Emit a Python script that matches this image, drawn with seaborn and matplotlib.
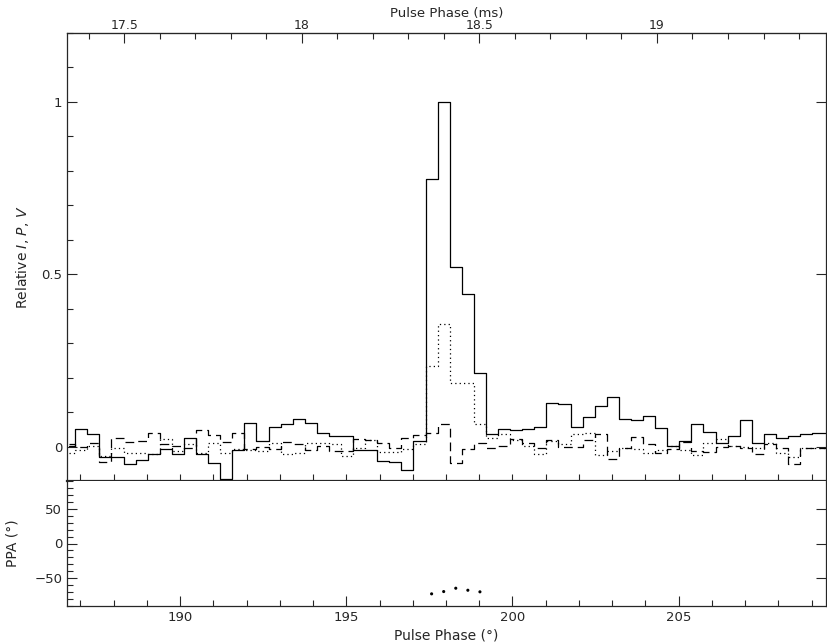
import numpy as np
import pandas as pd
import matplotlib
matplotlib.use("Agg")
import matplotlib.pyplot as plt
import seaborn as sns
from matplotlib.ticker import MultipleLocator

# perfil normalizado, un valor por bin de fase (primer bin parcial a la izquierda)
I = [0.003, 0.051, 0.035, -0.030, -0.030, -0.052, -0.038, -0.023, -0.007, -0.021,
     0.025, -0.021, -0.049, -0.093, -0.009, 0.067, 0.016, 0.056, 0.064, 0.080,
     0.069, 0.040, 0.030, 0.030, -0.009, -0.009, -0.042, -0.045, -0.067, 0.016,
     0.775, 1.0, 0.522, 0.444, 0.214, 0.035, 0.051, 0.047, 0.052, 0.057,
     0.125, 0.122, 0.057, 0.085, 0.117, 0.144, 0.080, 0.077, 0.089, 0.054,
     0.002, 0.017, 0.066, 0.043, 0.011, 0.030, 0.077, 0.010, 0.037, 0.025,
     0.030, 0.035, 0.039, 0.039]
P = [-0.020, -0.011, 0.001, -0.028, -0.004, -0.020, -0.020, -0.022, 0.022, -0.012,
     0.006, -0.018, 0.011, -0.018, -0.007, -0.009, -0.012, 0.011, -0.023, -0.020,
     0.011, 0.011, 0.006, -0.028, -0.004, 0.020, -0.016, -0.016, -0.007, 0.006,
     0.233, 0.355, 0.185, 0.185, 0.066, 0.025, 0.035, 0.018, 0.001, -0.021,
     0.017, 0.006, 0.036, 0.040, -0.025, -0.012, -0.004, -0.006, -0.020, -0.010,
     0.001, -0.011, -0.026, 0.010, 0.021, 0.002, 0.000, -0.004, 0.011, -0.018,
     -0.030, -0.004, -0.004, -0.004]
V = [0.006, 0.000, 0.010, -0.046, 0.024, 0.012, 0.015, 0.038, 0.006, 0.001,
     -0.005, 0.047, 0.034, 0.014, 0.038, -0.007, 0.000, -0.007, 0.012, 0.008,
     -0.009, 0.001, -0.014, -0.014, 0.021, 0.020, 0.011, -0.005, 0.026, 0.033,
     0.040, 0.065, -0.048, -0.006, 0.011, -0.004, 0.003, 0.022, 0.011, -0.004,
     0.020, 0.000, 0.000, 0.020, 0.037, -0.036, -0.004, 0.028, 0.006, -0.018,
     -0.008, 0.014, -0.012, -0.015, 0.000, 0.001, -0.005, -0.023, 0.008, -0.004,
     -0.051, -0.004, -0.004, -0.004]

# PPA en los bins del pulso
ppa = [-72.5, -69.2, -64.4, -67.3, -69.6]

# fase de cada bin (grados)
fase = 186.665 + 0.3634 * np.arange(len(I))
fase_ppa = fase[30:35]

periodo = 33.7  # ms
desfase = -0.129

def deg2ms(d):
    return d * periodo / 360.0 + desfase

def ms2deg(m):
    return (m - desfase) * 360.0 / periodo

sns.set_style("ticks")
plt.rcParams['font.family'] = ['DejaVu Sans']
plt.rcParams['font.size'] = 9.5

df = pd.DataFrame({'fase': fase, 'I': I, 'P': P, 'V': V})

fig = plt.figure(figsize=(8.27, 6.43), dpi=100)
ax = fig.add_axes([67/827, 1 - 481/643, 759/827, 448/643])
ax2 = fig.add_axes([67/827, 1 - 606/643, 759/827, 125/643], sharex=ax)

sns.lineplot(data=df, x='fase', y='I', ax=ax, color='black', lw=0.9,
             drawstyle='steps-mid', estimator=None)
sns.lineplot(data=df, x='fase', y='P', ax=ax, color='black', lw=0.9,
             drawstyle='steps-mid', estimator=None, linestyle=(0, (1, 2.5)))
sns.lineplot(data=df, x='fase', y='V', ax=ax, color='black', lw=0.9,
             drawstyle='steps-mid', estimator=None, linestyle=(0, (7, 4)))

ax.set_xlim(186.6, 209.43)
ax.set_ylim(-0.1, 1.2)
ax.set_xlabel('')
ax.set_ylabel('Relative $I$, $P$, $V$', fontsize=10)
ax.yaxis.set_major_locator(MultipleLocator(0.5))
ax.yaxis.set_minor_locator(MultipleLocator(0.1))
ax.set_yticks([0, 0.5, 1])
ax.set_yticklabels(['0', '0.5', '1'])
ax.set_xticks([200])
ax.tick_params(axis='x', which='both', bottom=True, top=False, labelbottom=False,
               direction='inout', length=10, width=0.8)
ax.tick_params(axis='y', which='both', left=True, right=True, direction='in')
ax.tick_params(axis='y', which='major', length=7, width=0.8)
ax.tick_params(axis='y', which='minor', length=4, width=0.8, right=False)
for s in ax.spines.values():
    s.set_linewidth(0.9)
ax.spines['bottom'].set_linewidth(1.6)

sec = ax.secondary_xaxis('top', functions=(deg2ms, ms2deg))
sec.xaxis.set_major_locator(MultipleLocator(0.5))
sec.xaxis.set_minor_locator(MultipleLocator(0.1))
sec.set_xticks([17.5, 18, 18.5, 19])
sec.set_xticklabels(['17.5', '18', '18.5', '19'])
sec.tick_params(which='both', direction='in', width=0.8, pad=0.5, labelsize=9)
sec.tick_params(which='major', length=7)
sec.tick_params(which='minor', length=4)
sec.set_xlabel('Pulse Phase (ms)', fontsize=9.5, labelpad=1.5)

sns.scatterplot(x=fase_ppa, y=ppa, ax=ax2, color='black', s=5, marker='o',
                edgecolor='none')
ax2.set_ylim(-90, 90)
ax2.set_xlim(186.6, 209.43)
ax2.set_yticks([-50, 0, 50])
ax2.yaxis.set_minor_locator(MultipleLocator(10))
ax2.xaxis.set_major_locator(MultipleLocator(5))
ax2.xaxis.set_minor_locator(MultipleLocator(1))
ax2.tick_params(axis='x', which='both', bottom=True, top=False, direction='in')
ax2.tick_params(axis='y', which='both', left=True, right=True, direction='in')
ax2.tick_params(axis='y', which='minor', right=False)
ax2.tick_params(which='major', length=7, width=0.8)
ax2.tick_params(which='minor', length=4, width=0.8)
ax2.set_xlabel('Pulse Phase (°)', fontsize=10, labelpad=3)
ax2.set_ylabel('PPA (°)', fontsize=10)
for s in ax2.spines.values():
    s.set_linewidth(0.9)
ax2.spines['top'].set_visible(False)

ax.yaxis.set_label_coords(-0.047, 0.5)
ax2.yaxis.set_label_coords(-0.062, 0.5)

fig.savefig('out.png', dpi=100)
